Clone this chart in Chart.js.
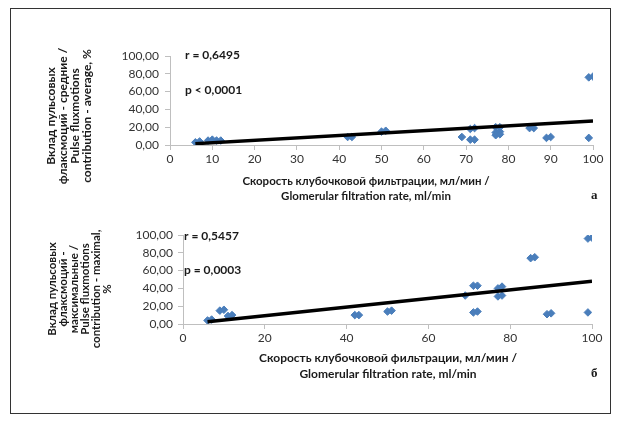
<!DOCTYPE html>
<html>
<head>
<meta charset="utf-8">
<script src="https://cdn.jsdelivr.net/npm/chart.js@4"></script>
<style>
  body { margin: 0; background: #fff; }
  #page { position: relative; width: 622px; height: 423px; overflow: hidden; }
  #frame { position: absolute; left: 10px; top: 8px; width: 601px; height: 406px; border: 1px solid #333; box-sizing: border-box; }
  .chart-box { position: absolute; left: 0; width: 622px; }
</style>
</head>
<body>
<div id="page">
  <div id="frame"></div>
  <div class="chart-box" style="top:0;height:210px"><canvas id="chartA" width="622" height="210"></canvas></div>
  <div class="chart-box" style="top:200px;height:223px"><canvas id="chartB" width="622" height="223"></canvas></div>
</div>
<script>
  // chart "а": average contribution vs GFR
  const gfrA = [6, 7, 9, 10, 11, 12, 42, 43, 50, 51, 69, 71, 72, 71, 72, 77, 78, 77, 78, 77, 78, 85, 86, 89, 90, 99, 99, 100];
  const avgA = [3, 4, 5, 6, 5, 5, 9, 9, 15, 16, 9, 6, 6, 18, 19, 20, 20, 14, 15, 11, 12, 19, 19, 8, 9, 8, 76, 77];
  const trendXA = [6, 100];
  const trendYA = [1.5, 27];

  // chart "б": maximal contribution vs GFR
  const gfrB = [6, 7, 9, 10, 11, 12, 42, 43, 50, 51, 69, 71, 72, 71, 72, 77, 78, 77, 78, 85, 86, 89, 90, 99, 99, 100];
  const maxB = [4, 5, 15, 16, 9, 10, 10, 10, 14, 15, 32, 43, 43, 13, 14, 40, 42, 31, 32, 74, 75, 11, 12, 13, 96, 97];
  const trendXB = [6, 100];
  const trendYB = [2.5, 48];

  const yTitleA = ["Вклад пульсовых", "флаксмоций - средние /", "Pulse fluxmotions", "contribution - average, %"];
  const yTitleB = ["Вклад пульсовых", "флаксмоций -", "максимальные /", "Pulse fluxmotions", "contribution - maximal,", "%"];
  const xTitle = ["Скорость клубочковой фильтрации, мл/мин /", "Glomerular filtration rate, ml/min"];

  const FONT = 'Lato, "Open Sans", sans-serif';
  const pts = (xs, ys) => xs.map((x, i) => ({ x: x, y: ys[i] }));

  // draws the free text of each panel (titles, r / p, panel letter)
  const notesPlugin = {
    id: "notes",
    afterDraw(chart, args, opts) {
      const ctx = chart.ctx;
      ctx.save();
      ctx.fillStyle = "#1a1a1a";
      ctx.textAlign = "center";
      ctx.textBaseline = "middle";
      // rotated y title
      ctx.font = "bold " + opts.ySize + "px " + FONT;
      opts.yLines.forEach((line, i) => {
        ctx.save();
        ctx.translate(opts.yX + i * opts.yStep, opts.yY);
        ctx.rotate(-Math.PI / 2);
        ctx.fillText(line, 0, 0);
        ctx.restore();
      });
      // x title
      ctx.font = "bold " + opts.xSize + "px " + FONT;
      xTitle.forEach((line, i) => ctx.fillText(line, opts.xX, opts.xY + i * opts.xStep));
      // statistics
      ctx.textAlign = "left";
      ctx.font = "bold 12px " + FONT;
      ctx.fillText(opts.r, opts.sX, opts.rY);
      ctx.fillText(opts.p, opts.sX, opts.pY);
      // panel letter
      ctx.font = "bold 13px 'Liberation Serif', serif";
      ctx.fillText(opts.letter, opts.lX, opts.lY);
      ctx.restore();
    }
  };

  function make_chart(id, xs, ys, tx, ty, o) {
    return new Chart(document.getElementById(id).getContext("2d"), {
      type: "scatter",
      data: {
        datasets: [
          {
            type: "line",
            data: pts(tx, ty),
            borderColor: "#000",
            borderWidth: 3.5,
            pointRadius: 0,
            fill: false
          },
          {
            data: pts(xs, ys),
            backgroundColor: "#4a7ebb",
            borderColor: "#4a7ebb",
            pointStyle: "rectRot",
            pointRadius: 3.8,
            borderWidth: 1
          }
        ]
      },
      options: {
        responsive: false,
        animation: false,
        devicePixelRatio: 1,
        layout: { padding: { top: o.top, right: o.right, left: 0, bottom: 0 } },
        plugins: { legend: { display: false }, tooltip: { enabled: false }, notes: o.notes },
        scales: {
          x: {
            type: "linear",
            min: 0, max: 100,
            ticks: { stepSize: o.xStep, color: "#333", font: { family: FONT, size: o.tickSize }, padding: 2, maxRotation: 0 },
            grid: { drawOnChartArea: false, drawTicks: true, tickLength: 5, color: "#bfbfbf" },
            border: { color: "#bfbfbf" },
            afterFit(s) { s.height = o.xHeight; }
          },
          y: {
            min: 0, max: 100,
            ticks: { stepSize: 20, color: "#333", font: { family: FONT, size: o.tickSize }, padding: o.yPad,
              callback: v => v.toFixed(2).replace(".", ",") },
            grid: { drawOnChartArea: false, drawTicks: true, tickLength: 5, color: "#bfbfbf" },
            border: { color: "#bfbfbf" },
            afterFit(s) { s.width = o.yWidth; }
          }
        }
      },
      plugins: [notesPlugin]
    });
  }

  make_chart("chartA", gfrA, avgA, trendXA, trendYA, {
    top: 56, right: 29, xHeight: 65, yWidth: 170, yPad: 6, xStep: 10, tickSize: 12,
    notes: { yLines: yTitleA, ySize: 12, yX: 51, yStep: 12.2, yY: 116,
      xSize: 11.5, xX: 366, xY: 181, xStep: 15,
      r: "r = 0,6495", p: "p < 0,0001", sX: 185, rY: 55, pY: 90,
      letter: "а", lX: 591, lY: 196 }
  });

  make_chart("chartB", gfrB, maxB, trendXB, trendYB, {
    top: 35, right: 30, xHeight: 99, yWidth: 183, yPad: 5, xStep: 20, tickSize: 12,
    notes: { yLines: yTitleB, ySize: 11.5, yX: 52, yStep: 11, yY: 89,
      xSize: 12, xX: 388, xY: 158, xStep: 16,
      r: "r = 0,5457", p: "p = 0,0003", sX: 184, rY: 36, pY: 70,
      letter: "б", lX: 591, lY: 174 }
  });
</script>
</body>
</html>
